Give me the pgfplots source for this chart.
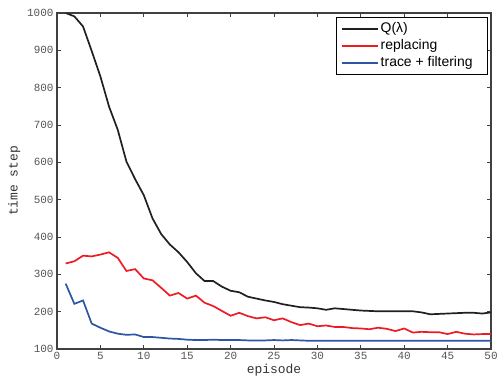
\documentclass[border=0pt]{standalone}
\usepackage{fontspec}
\setmainfont{Liberation Sans}
\newfontfamily\monof{Liberation Mono}
\usepackage{pgfplots}
\pgfplotsset{compat=1.18}
\definecolor{qblack}{RGB}{35,31,32}
\definecolor{qred}{RGB}{237,28,36}
\definecolor{qblue}{RGB}{46,84,164}
\definecolor{tickgray}{RGB}{85,85,85}
\begin{document}
\begin{tikzpicture}
\begin{axis}[
  scale only axis,
  width=434bp, height=336bp,
  xmin=0, xmax=50, ymin=100, ymax=1000,
  xtick={0,5,...,50}, ytick={100,200,...,1000},
  tick align=inside,
  major tick length=4bp,
  axis line style={draw=black!75, line width=1.1bp},
  tick style={draw=black!75, line width=0.8bp},
  ticklabel style={font=\monof\fontsize{11}{13}\selectfont, text=tickgray},
  /pgf/number format/assume math mode=true,
  /pgf/number format/1000 sep={},
  xlabel={episode}, ylabel={time step},
  label style={font=\monof\fontsize{13}{15}\selectfont, text=black!80},
  xlabel style={yshift=3bp},
  ylabel style={yshift=0bp},
  legend cell align=left,
  legend style={name=leg, at={(0.9915,0.9865)}, anchor=north east, draw=none,
    font=\fontsize{14}{16}\selectfont, row sep=0bp, inner xsep=5bp, inner ysep=3bp,
    nodes={inner xsep=1.5bp, inner ysep=1bp, text height=11bp, text depth=4bp}},
  legend image code/.code={\draw[#1, line width=1.6bp] (0bp,0bp) -- (36bp,0bp);},
]
\addlegendimage{qblack}
\addlegendentry{Q(λ)}
\addlegendimage{qred}
\addlegendentry{replacing}
\addlegendimage{qblue}
\addlegendentry{trace + filtering\hspace*{8bp}}
\addplot[qblack, line width=1.7bp, forget plot] coordinates {
(1,1000)(2,991)(3,964)(4,898)(5,830)(6,749)(7,687)(8,602)(9,555)(10,512)
(11,450)(12,408)(13,380)(14,359)(15,333)(16,303)(17,282)(18,282)(19,267)(20,256)
(21,252)(22,240)(23,235)(24,230)(25,226)(26,220)(27,216)(28,212)(29,211)(30,209)
(31,205)(32,209)(33,207)(34,205)(35,203)(36,202)(37,201)(38,201)(39,201)(40,201)
(41,201)(42,198)(43,193)(44,194)(45,195)(46,196)(47,197)(48,197)(49,195)(50,198)};
\addplot[qred, line width=1.7bp, forget plot] coordinates {
(1,329)(2,335)(3,350)(4,348)(5,353)(6,359)(7,344)(8,309)(9,314)(10,289)
(11,284)(12,264)(13,243)(14,250)(15,235)(16,243)(17,224)(18,215)(19,202)(20,189)
(21,197)(22,188)(23,182)(24,185)(25,177)(26,182)(27,172)(28,164)(29,168)(30,161)
(31,163)(32,159)(33,159)(34,156)(35,155)(36,153)(37,157)(38,154)(39,148)(40,155)
(41,144)(42,146)(43,145)(44,145)(45,140)(46,146)(47,141)(48,139)(49,140)(50,140)};
\addplot[qblue, line width=1.7bp, forget plot] coordinates {
(1,275)(2,221)(3,230)(4,168)(5,157)(6,147)(7,141)(8,138)(9,139)(10,132)
(11,132)(12,130)(13,128)(14,127)(15,125)(16,124)(17,124)(18,125)(19,124)(20,124)
(21,124)(22,123)(23,123)(24,123)(25,124)(26,123)(27,124)(28,123)(29,122)(30,122)
(31,122)(32,122)(33,122)(34,122)(35,122)(36,122)(37,122)(38,122)(39,122)(40,122)
(41,122)(42,122)(43,122)(44,122)(45,122)(46,122)(47,122)(48,122)(49,122)(50,122)};
\end{axis}
\draw[black, line width=0.9bp] (leg.south west) rectangle (leg.north east);
\pgfresetboundingbox
\path[use as bounding box] (-57bp,-30bp) rectangle (440bp,349bp);
\end{tikzpicture}
\end{document}
